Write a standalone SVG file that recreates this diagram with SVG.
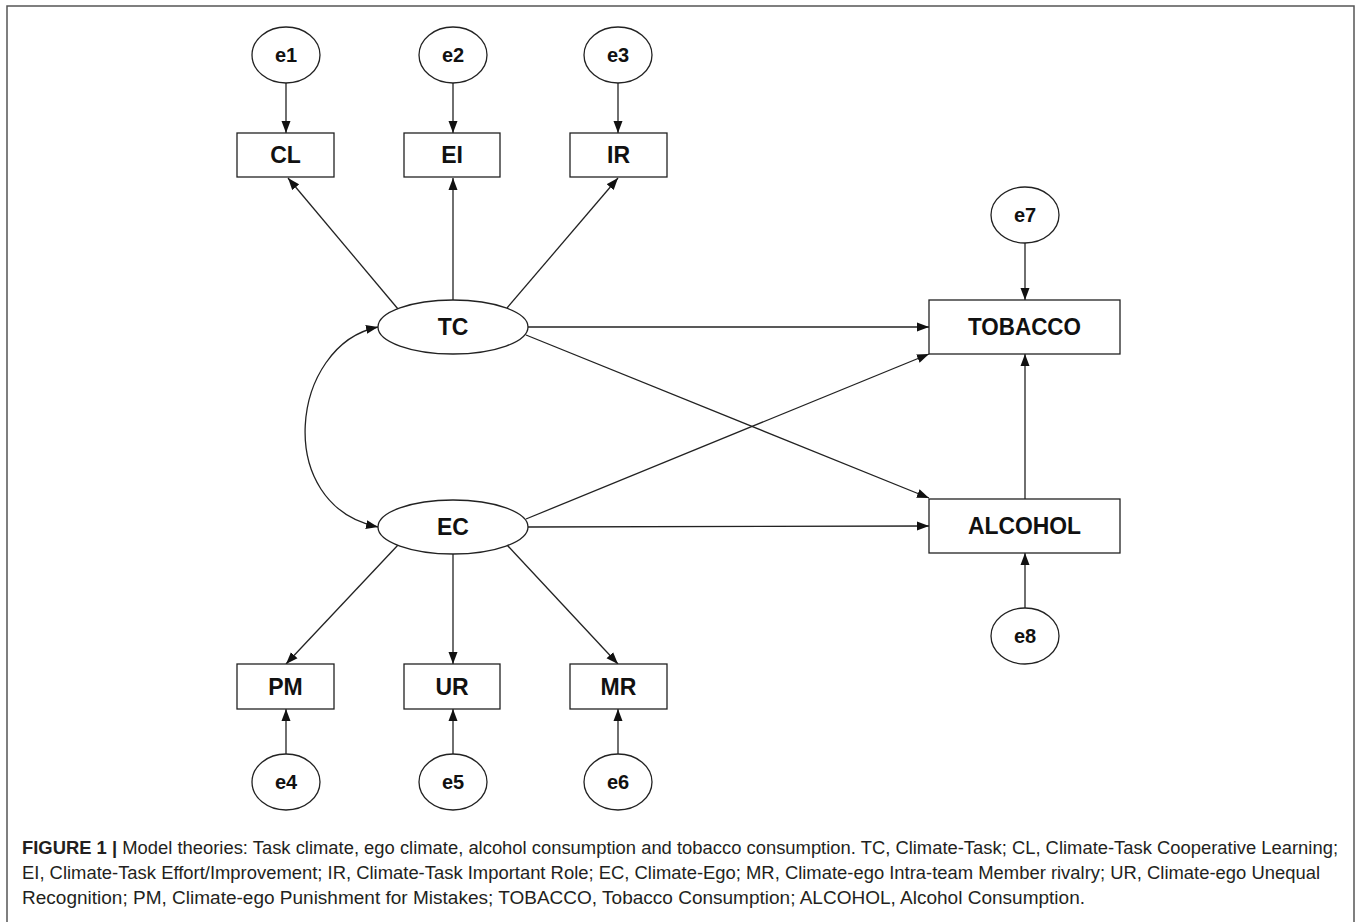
<svg xmlns="http://www.w3.org/2000/svg" width="1357" height="922" viewBox="0 0 1357 922">
<style>
.frame{fill:#fff;stroke:#555;stroke-width:1.5}
.nd{fill:#fff;stroke:#222;stroke-width:1.3}
.lb{font-family:"Liberation Sans",Arial,sans-serif;font-weight:bold;font-size:23px;fill:#111;text-anchor:middle;dominant-baseline:central}
.el{font-family:"Liberation Sans",Arial,sans-serif;font-weight:bold;font-size:20px;fill:#111;text-anchor:middle;dominant-baseline:central}
.cn{fill:none;stroke:#222;stroke-width:1.3}
.cap{font-family:"Liberation Sans",Arial,sans-serif;font-size:17.5px;fill:#231f20}
</style>
<defs>
<marker id="ah" viewBox="0 0 12 10" refX="12" refY="5" markerWidth="12" markerHeight="10" markerUnits="userSpaceOnUse" orient="auto-start-reverse">
<path d="M0,0.5 L12,5 L0,9.5 Z" fill="#111"/>
</marker>
</defs>
<rect class="frame" x="7" y="6" width="1347" height="920"/>

<g id="connectors">
<line class="cn" x1="286" y1="83" x2="286" y2="133" marker-end="url(#ah)"/>
<line class="cn" x1="453" y1="83" x2="453" y2="133" marker-end="url(#ah)"/>
<line class="cn" x1="618" y1="83" x2="618" y2="133" marker-end="url(#ah)"/>
<line class="cn" x1="398" y1="309" x2="288" y2="178" marker-end="url(#ah)"/>
<line class="cn" x1="453" y1="300" x2="453" y2="178" marker-end="url(#ah)"/>
<line class="cn" x1="507" y1="308" x2="618" y2="178" marker-end="url(#ah)"/>
<line class="cn" x1="528" y1="327" x2="929" y2="327" marker-end="url(#ah)"/>
<line class="cn" x1="526" y1="335" x2="929" y2="498" marker-end="url(#ah)"/>
<line class="cn" x1="526" y1="519" x2="929" y2="354" marker-end="url(#ah)"/>
<line class="cn" x1="528" y1="527" x2="929" y2="526" marker-end="url(#ah)"/>
<line class="cn" x1="1025" y1="499" x2="1025" y2="354" marker-end="url(#ah)"/>
<line class="cn" x1="1025" y1="243" x2="1025" y2="300" marker-end="url(#ah)"/>
<line class="cn" x1="1025" y1="608" x2="1025" y2="553" marker-end="url(#ah)"/>
<line class="cn" x1="398" y1="545" x2="286" y2="664" marker-end="url(#ah)"/>
<line class="cn" x1="453" y1="554" x2="453" y2="664" marker-end="url(#ah)"/>
<line class="cn" x1="507" y1="545" x2="618" y2="664" marker-end="url(#ah)"/>
<line class="cn" x1="286" y1="754" x2="286" y2="709" marker-end="url(#ah)"/>
<line class="cn" x1="453" y1="754" x2="453" y2="709" marker-end="url(#ah)"/>
<line class="cn" x1="618" y1="754" x2="618" y2="709" marker-end="url(#ah)"/>
<path class="cn" d="M378,327 C290,345 272,505 378,527" marker-start="url(#ah)" marker-end="url(#ah)"/>
</g>

<g id="e1"><ellipse class="nd" cx="286" cy="55" rx="34" ry="28"/><text class="el" x="286" y="55">e1</text></g>
<g id="e2"><ellipse class="nd" cx="453" cy="55" rx="34" ry="28"/><text class="el" x="453" y="55">e2</text></g>
<g id="e3"><ellipse class="nd" cx="618" cy="55" rx="34" ry="28"/><text class="el" x="618" y="55">e3</text></g>
<g id="CL"><rect class="nd" x="237" y="133" width="97" height="44"/><text class="lb" x="285.5" y="155">CL</text></g>
<g id="EI"><rect class="nd" x="404" y="133" width="96" height="44"/><text class="lb" x="452" y="155">EI</text></g>
<g id="IR"><rect class="nd" x="570" y="133" width="97" height="44"/><text class="lb" x="618.5" y="155">IR</text></g>
<g id="TC"><ellipse class="nd" cx="453" cy="327" rx="75" ry="27"/><text class="lb" x="453" y="327">TC</text></g>
<g id="EC"><ellipse class="nd" cx="453" cy="527" rx="75" ry="27"/><text class="lb" x="453" y="527">EC</text></g>
<g id="PM"><rect class="nd" x="237" y="664" width="97" height="45"/><text class="lb" x="285.5" y="686.5">PM</text></g>
<g id="UR"><rect class="nd" x="404" y="664" width="96" height="45"/><text class="lb" x="452" y="686.5">UR</text></g>
<g id="MR"><rect class="nd" x="570" y="664" width="97" height="45"/><text class="lb" x="618.5" y="686.5">MR</text></g>
<g id="e4"><ellipse class="nd" cx="286" cy="782" rx="34" ry="28"/><text class="el" x="286" y="782">e4</text></g>
<g id="e5"><ellipse class="nd" cx="453" cy="782" rx="34" ry="28"/><text class="el" x="453" y="782">e5</text></g>
<g id="e6"><ellipse class="nd" cx="618" cy="782" rx="34" ry="28"/><text class="el" x="618" y="782">e6</text></g>
<g id="e7"><ellipse class="nd" cx="1025" cy="215" rx="34" ry="28"/><text class="el" x="1025" y="215">e7</text></g>
<g id="TOBACCO"><rect class="nd" x="929" y="300" width="191" height="54"/><text class="lb" x="1024.5" y="327" textLength="113" lengthAdjust="spacingAndGlyphs">TOBACCO</text></g>
<g id="ALCOHOL"><rect class="nd" x="929" y="499" width="191" height="54"/><text class="lb" x="1024.5" y="526" textLength="113" lengthAdjust="spacingAndGlyphs">ALCOHOL</text></g>
<g id="e8"><ellipse class="nd" cx="1025" cy="636" rx="34" ry="28"/><text class="el" x="1025" y="636">e8</text></g>

<g id="caption">
<text class="cap" x="22" y="854" textLength="1316" lengthAdjust="spacingAndGlyphs"><tspan font-weight="bold">FIGURE 1 |</tspan> Model theories: Task climate, ego climate, alcohol consumption and tobacco consumption. TC, Climate-Task; CL, Climate-Task Cooperative Learning;</text>
<text class="cap" x="22" y="879" textLength="1298" lengthAdjust="spacingAndGlyphs">EI, Climate-Task Effort/Improvement; IR, Climate-Task Important Role; EC, Climate-Ego; MR, Climate-ego Intra-team Member rivalry; UR, Climate-ego Unequal</text>
<text class="cap" x="22" y="904" textLength="1063" lengthAdjust="spacingAndGlyphs">Recognition; PM, Climate-ego Punishment for Mistakes; TOBACCO, Tobacco Consumption; ALCOHOL, Alcohol Consumption.</text>
</g>
</svg>
